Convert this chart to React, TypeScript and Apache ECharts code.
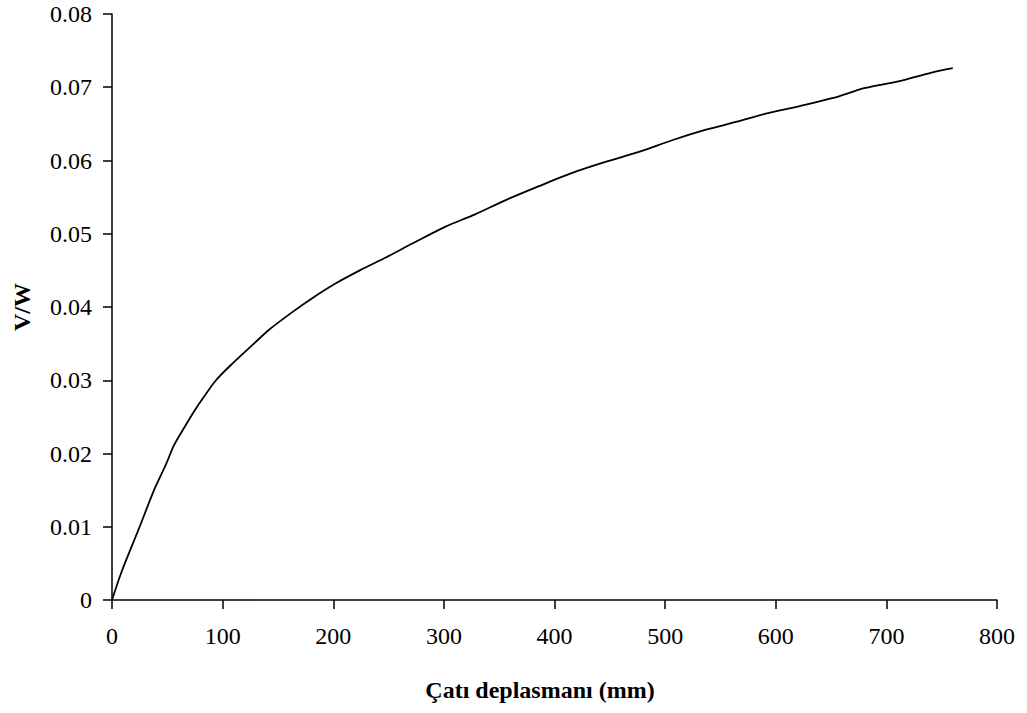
import React, { useEffect, useRef } from "react";
import * as echarts from "echarts";

// Roof displacement (mm)
const displacement: number[] = [
  0, 9, 25, 38, 49, 56, 64, 74, 82, 94, 109, 129, 142, 163, 181, 202, 224, 248,
  272, 302, 326, 356, 386, 416, 446, 477, 507, 537, 565, 591, 621, 651, 681,
  711, 741, 760,
];
// Base shear ratio V/W
const shearRatio: number[] = [
  0, 0.004, 0.01, 0.015, 0.0186, 0.0211, 0.0232, 0.0257, 0.0275, 0.03,
  0.0323, 0.0351, 0.0369, 0.0393, 0.0412, 0.0432, 0.045, 0.0468, 0.0487,
  0.051, 0.0525, 0.0546, 0.0565, 0.0583, 0.0598, 0.0612, 0.0628, 0.0642,
  0.0653, 0.0664, 0.0674, 0.0685, 0.0699, 0.0708, 0.072, 0.0726,
];

const xAxisTitle = "Çatı deplasmanı (mm)";
const yAxisTitle = "V/W";

export default function App() {
  const ref = useRef<HTMLDivElement>(null);

  useEffect(() => {
    document.body.style.margin = "0";
    if (!ref.current) return;
    const chart = echarts.init(ref.current, undefined, { renderer: "svg" });
    const font = "'Liberation Serif', 'Times New Roman', serif";
    const data = displacement.map((x, i) => [x, shearRatio[i]]);
    chart.setOption({
      animation: false,
      backgroundColor: "#ffffff",
      grid: { left: 112, right: 30, top: 14, bottom: 113, containLabel: false },
      xAxis: {
        type: "value",
        min: 0,
        max: 800,
        interval: 100,
        name: xAxisTitle,
        nameLocation: "middle",
        nameGap: 78,
        nameTextStyle: {
          fontFamily: font,
          fontSize: 24,
          fontWeight: "bold",
          color: "#000",
          padding: [0, 29, 0, 0],
        },
        axisLine: { show: true, lineStyle: { color: "#000", width: 1.5 } },
        axisTick: { show: true, length: 9, lineStyle: { color: "#000", width: 1.5 } },
        axisLabel: { margin: 24, fontFamily: font, fontSize: 24, color: "#000" },
        splitLine: { show: false },
      },
      yAxis: {
        type: "value",
        min: 0,
        max: 0.08,
        interval: 0.01,
        name: yAxisTitle,
        nameLocation: "middle",
        nameGap: 78,
        nameRotate: 90,
        nameTextStyle: {
          fontFamily: font,
          fontSize: 24,
          fontWeight: "bold",
          color: "#000",
        },
        axisLine: { show: true, lineStyle: { color: "#000", width: 1.5 } },
        axisTick: { show: true, length: 9, lineStyle: { color: "#000", width: 1.5 } },
        axisLabel: {
          margin: 20,
          fontFamily: font,
          fontSize: 24,
          color: "#000",
          formatter: (v: number) => (v === 0 ? "0" : v.toFixed(2)),
        },
        splitLine: { show: false },
      },
      series: [
        {
          type: "line",
          data,
          showSymbol: false,
          smooth: 0.3,
          lineStyle: { color: "#000", width: 1.8 },
        },
      ],
    });
    return () => chart.dispose();
  }, []);

  return <div ref={ref} style={{ width: 1027, height: 713 }} />;
}
